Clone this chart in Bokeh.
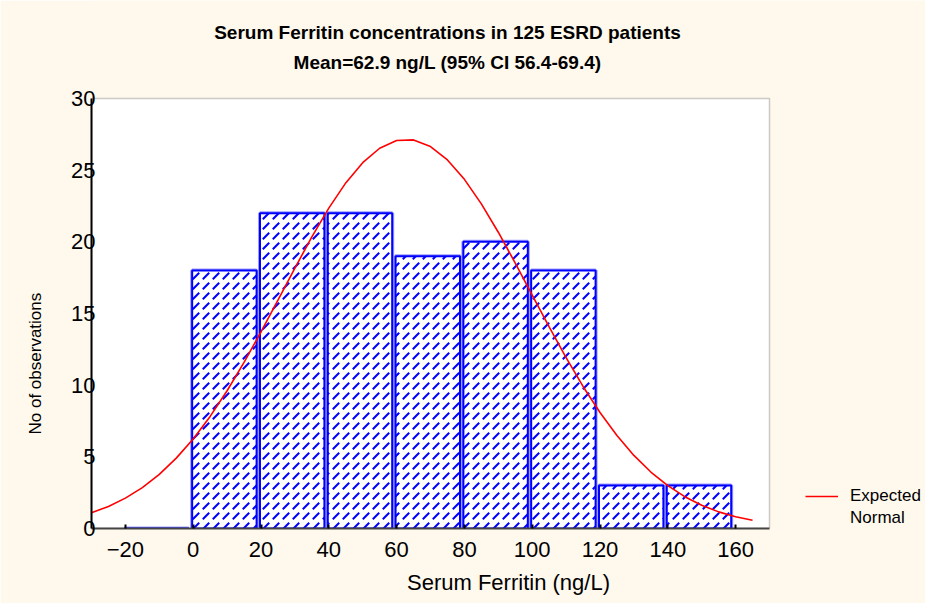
from bokeh.plotting import figure
from bokeh.models import (Range1d, LinearAxis, FixedTicker, Legend, LegendItem, Title,
                          Label, BoxAnnotation, ColumnDataSource, Grid)
from bokeh.embed import file_html
from bokeh.resources import INLINE

# ---------------- data ----------------
bin_lo = [-20, 0, 20, 40, 60, 80, 100, 120, 140]
bin_hi = [0, 20, 40, 60, 80, 100, 120, 140, 160]
counts = [0, 18, 22, 22, 19, 20, 18, 3, 3]

curve_x = [-30, -25, -20, -15, -10, -5, 0, 5, 10, 15, 20, 25, 30, 35, 40, 45, 50,
           55, 60, 65, 70, 75, 80, 85, 90, 95, 100, 105, 110, 115, 120, 125, 130,
           135, 140, 145, 150, 155, 160, 165]
curve_y = [1.10, 1.54, 2.12, 2.85, 3.78, 4.91, 6.25, 7.82, 9.61, 11.59, 13.71, 15.93,
           18.17, 20.34, 22.35, 24.11, 25.52, 26.53, 27.07, 27.11, 26.65, 25.71, 24.36,
           22.65, 20.67, 18.52, 16.29, 14.06, 11.92, 9.91, 8.09, 6.49, 5.10, 3.94, 2.99,
           2.22, 1.62, 1.16, 0.82, 0.57]

x_ticks = [-20, 0, 20, 40, 60, 80, 100, 120, 140, 160]
y_ticks = [0, 5, 10, 15, 20, 25, 30]

title_1 = "Serum Ferritin concentrations in 125 ESRD patients"
title_2 = "Mean=62.9 ng/L (95% CI 56.4-69.4)"
x_label = "Serum Ferritin (ng/L)"
y_label = "No of observations"
legend_labels = ["Expected", "Normal"]

# ---------------- layout (pixels) ----------------
W, H = 925, 603
LEFT, BOTTOM = 91, 75            # side panels
PLOT_W, PLOT_H = 678, 430        # white plot area inside the frame
X_MIN, X_MAX = -30, 170
Y_MIN, Y_MAX = 0, 30

FONT = "Liberation Sans"
CREAM = "#FFF8EC"
BLUE = "#0000FF"

frame_w = W - LEFT
frame_h = H - BOTTOM
x_end = X_MIN + (X_MAX - X_MIN) * frame_w / PLOT_W
y_end = Y_MIN + (Y_MAX - Y_MIN) * frame_h / PLOT_H
ppx = PLOT_W / (X_MAX - X_MIN)
ppy = PLOT_H / (Y_MAX - Y_MIN)

p = figure(width=W, height=H, output_backend="svg", toolbar_location=None,
           x_range=Range1d(X_MIN, x_end), y_range=Range1d(Y_MIN, y_end),
           min_border_left=LEFT, min_border_right=0, min_border_top=0,
           min_border_bottom=BOTTOM, x_axis_type=None, y_axis_type=None, title=None)
p.border_fill_color = CREAM
p.background_fill_color = CREAM
p.outline_line_color = None

# white plot area with its border
p.add_layout(BoxAnnotation(left=X_MIN, right=X_MAX, bottom=Y_MIN, top=Y_MAX,
                           fill_color="white", fill_alpha=1, line_color="#555555",
                           line_width=1.5, level="image"))

# axes
xaxis = LinearAxis(ticker=FixedTicker(ticks=x_ticks), bounds=(X_MIN, X_MAX))
xaxis.axis_line_color = "#444444"
xaxis.axis_line_width = 2
xaxis.major_tick_in = 4
xaxis.major_tick_out = 0
xaxis.major_tick_line_color = "black"
xaxis.major_tick_line_width = 2
xaxis.minor_tick_line_color = None
xaxis.major_label_text_font = FONT
xaxis.major_label_text_font_size = "22px"
xaxis.major_label_text_color = "black"
xaxis.major_label_standoff = 13
xaxis.axis_label = x_label
xaxis.axis_label_text_font = FONT
xaxis.axis_label_text_font_size = "22px"
xaxis.axis_label_text_font_style = "normal"
xaxis.axis_label_text_color = "black"
xaxis.axis_label_standoff = 10
p.add_layout(xaxis, "below")

yaxis = LinearAxis(ticker=FixedTicker(ticks=y_ticks), bounds=(Y_MIN, Y_MAX))
yaxis.axis_line_color = "black"
yaxis.axis_line_width = 2
yaxis.major_tick_in = 0
yaxis.major_tick_out = 0
yaxis.minor_tick_line_color = None
yaxis.major_label_text_font = FONT
yaxis.major_label_text_font_size = "22px"
yaxis.major_label_text_color = "black"
yaxis.major_label_standoff = -4
p.add_layout(yaxis, "left")

p.add_layout(Title(text=y_label, align="left", offset=94, standoff=44,
                   vertical_align="top", text_font=FONT, text_font_size="17px",
                   text_font_style="normal", text_color="black"), "left")

# dotted horizontal grid inside the plot area only
grid_ticks = [t for t in y_ticks if Y_MIN < t < Y_MAX]
if "cross_bounds" in Grid.properties():
    p.ygrid.ticker = FixedTicker(ticks=grid_ticks)
    p.ygrid.cross_bounds = (X_MIN, X_MAX)
    p.ygrid.grid_line_color = "#BDBDBD"
    p.ygrid.grid_line_dash = "2 4"
    p.ygrid.grid_line_width = 1
else:
    p.ygrid.visible = False
    p.segment(x0=[X_MIN] * len(grid_ticks), x1=[X_MAX] * len(grid_ticks),
              y0=grid_ticks, y1=grid_ticks, line_color="#BDBDBD",
              line_dash="2 4", line_width=1, level="underlay")
p.xgrid.visible = False

# ---------------- bars ----------------
left = [lo - 0.3 for lo in bin_lo]
rightb = [hi - 1.3 for hi in bin_hi]
bottoms = [Y_MIN] * len(counts)
src = ColumnDataSource(dict(left=left, right=rightb, top=counts, bottom=bottoms))

p.quad(left="left", right="right", top="top", bottom="bottom", source=src,
       fill_color=None, line_color="#9C9CFF", line_width=4)
p.quad(left="left", right="right", top="top", bottom="bottom", source=src,
       fill_color="white", hatch_pattern="right_diagonal_dash",
       hatch_color=BLUE, hatch_scale=10, hatch_weight=2,
       line_color=BLUE, line_width=2)

# ---------------- expected normal curve ----------------
curve = p.line(curve_x, curve_y, line_color="#FF0000", line_width=1.6)
ghost = p.line(x=curve_x[:1], y=curve_y[:1], line_alpha=0)

legend = Legend(items=[LegendItem(label=legend_labels[0], renderers=[curve]),
                       LegendItem(label=legend_labels[1], renderers=[ghost])],
                location=(805 - LEFT, 0))
legend.border_line_color = None
legend.background_fill_alpha = 0
legend.padding = 0
legend.margin = 0
legend.spacing = 2
legend.glyph_width = 33
legend.glyph_height = 20
legend.label_height = 20
legend.label_standoff = 12
legend.label_text_font = FONT
legend.label_text_font_size = "17px"
legend.label_text_color = "black"
p.add_layout(legend)

# ---------------- titles (inside the cream frame area above the plot) ----------------
title_cx = X_MIN + (447 - LEFT) / ppx
for txt, py in ((title_1, 32), (title_2, 62)):
    p.add_layout(Label(x=title_cx, y=Y_MAX + (frame_h - PLOT_H - py) / ppy, text=txt,
                       text_align="center", text_baseline="middle", text_font=FONT,
                       text_font_size="19px", text_font_style="bold",
                       text_color="black"))

open("out.html", "w").write(file_html(p, INLINE))
